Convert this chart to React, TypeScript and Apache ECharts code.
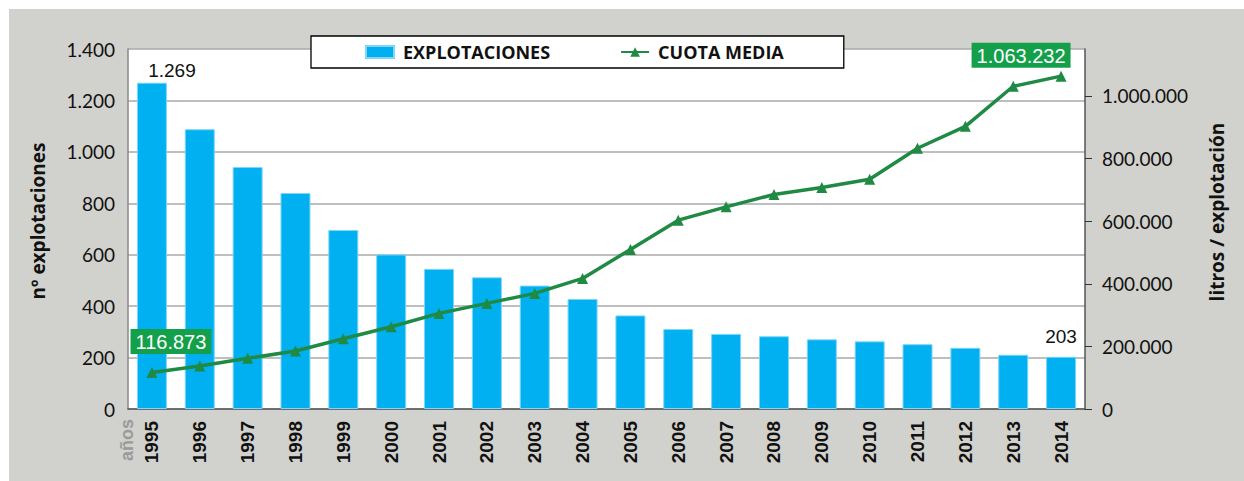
import React, { useEffect, useRef } from "react";
import * as echarts from "echarts";

const years = ["1995","1996","1997","1998","1999","2000","2001","2002","2003","2004","2005","2006","2007","2008","2009","2010","2011","2012","2013","2014"];
const explotaciones = [1269,1088,941,840,696,601,545,512,480,428,364,311,292,283,271,263,252,238,211,203];
const cuotaMedia = [116873,137300,161800,185100,224400,262700,305400,337400,369300,417200,509700,603300,645700,685300,707600,734000,833000,903000,1031000,1063232];

const leftTicks = { min: 0, max: 1400, interval: 200 };
const rightTicks = { min: 0, max: 1150000, interval: 200000 };

const fmt = (n: number) => Math.round(n).toString().replace(/\B(?=(\d{3})+(?!\d))/g, ".");

export default function App() {
  const ref = useRef<HTMLDivElement>(null);
  useEffect(() => {
    if (!ref.current) return;
    const chart = echarts.init(ref.current, undefined, { renderer: "svg" });
    const last = years.length - 1;
    const green = "#1f8a44";
    const labelGreen = "#14a04a";
    chart.setOption({
      animation: false,
      backgroundColor: "#d1d1cd",
      grid: {
        left: 128, right: 159, top: 49, bottom: 72,
        show: true, backgroundColor: "#ffffff", borderWidth: 0,
      },
      legend: {
        left: 311, top: 36,
        padding: [7, 60, 7, 54],
        backgroundColor: "#ffffff",
        borderColor: "#000000",
        borderWidth: 1.3,
        borderRadius: 0,
        itemWidth: 28, itemHeight: 12, itemGap: 70,
        textStyle: { fontFamily: "Open Sans", fontWeight: "bold", fontSize: 18, color: "#111", padding: [0, 0, 0, 4] },
        data: [
          { name: "EXPLOTACIONES", icon: "rect" },
          { name: "CUOTA MEDIA" },
        ],
      },
      xAxis: {
        type: "category",
        data: years,
        axisLine: { lineStyle: { color: "#555", width: 1.5 } },
        axisTick: { show: false },
        axisLabel: {
          rotate: 90, margin: 12, interval: 0,
          fontFamily: "Liberation Sans, Arial", fontWeight: "bold", fontSize: 19, color: "#111",
        },
      },
      yAxis: [
        {
          type: "value", ...leftTicks,
          axisLine: { show: true, lineStyle: { color: "#888", width: 1.5 } },
          axisTick: { show: false },
          splitLine: { lineStyle: { color: "#a8a8a8", width: 1.5 } },
          axisLabel: { formatter: (v: number) => fmt(v), margin: 13, fontFamily: "Lato", fontSize: 19, color: "#111" },
        },
        {
          type: "value", ...rightTicks,
          position: "right",
          axisLine: { show: true, lineStyle: { color: "#555", width: 1.5 } },
          axisTick: { show: true, length: 7, lineStyle: { color: "#333" } },
          splitLine: { show: false },
          axisLabel: {
            showMaxLabel: false,
            formatter: (v: number) => (v % 200000 === 0 ? fmt(v) : ""),
            margin: 17, fontFamily: "Lato", fontSize: 19, color: "#111",
          },
        },
      ],
      series: [
        {
          name: "EXPLOTACIONES",
          type: "bar",
          yAxisIndex: 0,
          barWidth: 30,
          itemStyle: { color: "#00b0f0", borderColor: "#7fd6f6", borderWidth: 1 },
          label: { show: false },
          data: explotaciones.map((v, i) =>
            i === 0 || i === last
              ? { value: v, label: { show: true, position: "top", distance: 3, formatter: (p: any) => fmt(p.value), fontFamily: "Liberation Sans, Arial", fontSize: 19, color: "#111", offset: i === last ? [0, -8] : [20, 0] } }
              : v
          ),
        },
        {
          name: "CUOTA MEDIA",
          type: "line",
          yAxisIndex: 1,
          symbol: "triangle",
          symbolSize: 11,
          lineStyle: { color: green, width: 3.5 },
          itemStyle: { color: green },
          data: cuotaMedia.map((v, i) =>
            i === 0 || i === last
              ? {
                  value: v,
                  label: {
                    show: true, position: "top",
                    formatter: (p: any) => fmt(p.value),
                    backgroundColor: labelGreen, color: "#ffffff",
                    fontFamily: "Liberation Sans, Arial", fontSize: 20,
                    padding: [3, 5, 2, 5],
                    distance: i === 0 ? 13 : 3,
                    offset: i === 0 ? [19, 0] : [-40, 0],
                  },
                }
              : v
          ),
        },
      ],
      graphic: [
        { type: "rect", shape: { x: 0, y: 0, width: 1244, height: 9 }, style: { fill: "#ffffff" }, silent: true },
        { type: "rect", shape: { x: 0, y: 0, width: 9, height: 481 }, style: { fill: "#ffffff" }, silent: true },
        {
          type: "text", x: 38, y: 221, rotation: Math.PI / 2,
          style: { text: "nº explotaciones", fontFamily: "Open Sans", fontWeight: "bold", fontSize: 19, fill: "#111", align: "center", verticalAlign: "middle" },
        },
        {
          type: "text", x: 1217, y: 212, rotation: Math.PI / 2,
          style: { text: "litros / explotación", fontFamily: "Open Sans", fontWeight: "bold", fontSize: 19, fill: "#111", align: "center", verticalAlign: "middle" },
        },
        {
          type: "text", x: 127, y: 440, rotation: Math.PI / 2,
          style: { text: "años", fontFamily: "Liberation Sans, Arial", fontWeight: "bold", fontSize: 18, fill: "#9a9a9a", align: "center", verticalAlign: "middle" },
        },
      ],
    });
    return () => chart.dispose();
  }, []);
  return <div ref={ref} style={{ position: "absolute", left: 0, top: 0, width: 1244, height: 481 }} />;
}
